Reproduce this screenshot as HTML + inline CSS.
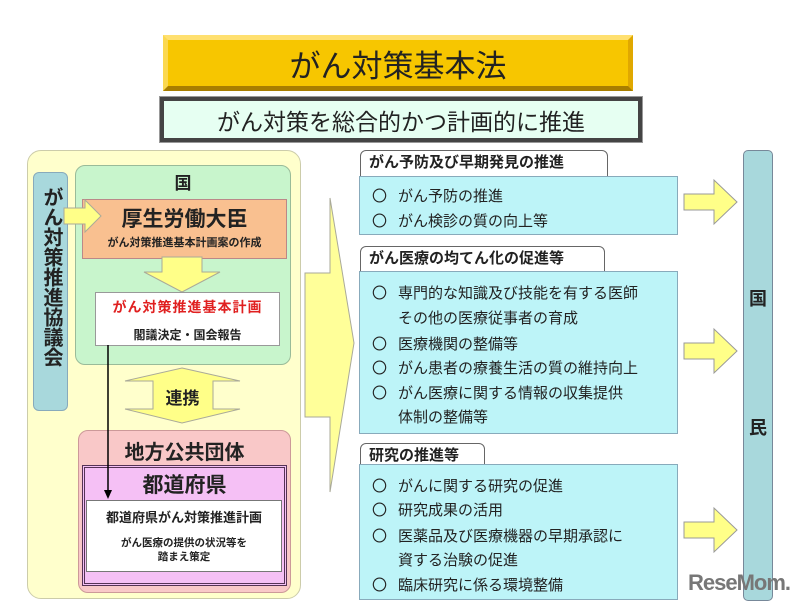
<!DOCTYPE html>
<html><head><meta charset="utf-8"><style>
*{margin:0;padding:0;box-sizing:border-box}
body{width:800px;height:609px;background:#fff;position:relative;overflow:hidden;font-family:"Liberation Sans","Noto Sans CJK JP",sans-serif;color:#222}
.a{position:absolute}
.c{display:flex;align-items:center;justify-content:center;text-align:center}
.b{font-weight:bold}
.tab{position:absolute;background:#fff;border:1px solid #666;border-radius:6px 6px 0 0;font-weight:bold;font-size:15px;padding-left:8px;line-height:24px}
.box{position:absolute;background:#BDF4F8;border:1px solid #8ab;}
.l{position:absolute;left:12px;font-size:15px;white-space:nowrap}
.o{font-family:"Noto Sans CJK JP",sans-serif;display:inline-block;width:26px;font-size:15px}
</style></head><body>
<div class="a c" style="left:163px;top:35px;width:470px;height:56px;background:#F7C600;border:5px solid #E0A800;border-top-color:#FFE070;border-left-color:#FBD850;border-bottom-color:#A87E00;font-size:31px">がん対策基本法</div>
<div class="a c" style="left:160px;top:97px;width:482px;height:45px;background:#E6FFF2;border:4px solid #444;outline:1px solid #999;font-size:23px">がん対策を総合的かつ計画的に推進</div>

<div class="a" style="left:27px;top:150px;width:274px;height:449px;background:#FFFFCC;border:1px solid #cca;border-radius:14px"></div>
<div class="a" style="left:33px;top:172px;width:35px;height:239px;background:#A8D8DC;border:1px solid #8ab;border-radius:6px;font-weight:bold;font-size:20px;line-height:23px;text-align:center;padding-top:14px;writing-mode:vertical-rl;display:flex;align-items:center">がん対策推進協議会</div>
<div class="a" style="left:75px;top:165px;width:216px;height:200px;background:#C8F5CC;border:1px solid #9b9;border-radius:10px"></div>
<div class="a c b" style="left:75px;top:170px;width:216px;height:22px;font-size:17px">国</div>
<div class="a" style="left:82px;top:199px;width:205px;height:60px;background:#F9C090;border:1px solid #b88"></div>
<div class="a c b" style="left:82px;top:204px;width:205px;height:28px;font-size:21px">厚生労働大臣</div>
<div class="a c b" style="left:82px;top:234px;width:205px;height:16px;font-size:11px">がん対策推進基本計画案の作成</div>
<svg class="a" style="left:0;top:0" width="800" height="609">
<polygon points="64,208 85,208 85,200 101,216 85,232 85,224 64,224" fill="#FFFF88" stroke="#aa9" />
<polygon points="162,257 202,257 202,272 220,272 182,292 144,272 162,272" fill="#FFFF88" stroke="#aa9"/>
<polygon points="182,368 240,381 213,381 213,409 240,409 182,423 125,409 153,409 153,381 125,381" fill="#FFFF88" stroke="#aa9"/>
<polygon points="305,273 330,273 330,198 354,343 330,492 330,417 305,417" fill="#FFFF99" stroke="#aa9"/>
<polygon points="684,194 714,194 714,180 737,202 714,224 714,210 684,210" fill="#FFFF88" stroke="#999"/>
<polygon points="684,343 714,343 714,329 737,351 714,373 714,359 684,359" fill="#FFFF88" stroke="#999"/>
<polygon points="684,522 714,522 714,508 737,530 714,552 714,538 684,538" fill="#FFFF88" stroke="#999"/>
</svg>
<div class="a" style="left:95px;top:292px;width:185px;height:54px;background:#fff;border:1px solid #999"></div>
<div class="a c b" style="left:95px;top:296px;width:185px;height:22px;font-size:14px;color:#E02020;letter-spacing:1px">がん対策推進基本計画</div>
<div class="a c b" style="left:95px;top:325px;width:185px;height:18px;font-size:12px">閣議決定・国会報告</div>
<div class="a c b" style="left:125px;top:385px;width:115px;height:22px;font-size:17px">連携</div>

<div class="a" style="left:78px;top:430px;width:213px;height:163px;background:#F9C8C8;border:1px solid #c99;border-radius:10px"></div>
<div class="a c b" style="left:78px;top:437px;width:213px;height:26px;font-size:20px">地方公共団体</div>
<div class="a" style="left:82px;top:465px;width:205px;height:121px;background:#F5C0F5;border:3px double #535"></div>
<div class="a c b" style="left:82px;top:471px;width:205px;height:26px;font-size:21px">都道府県</div>
<div class="a" style="left:86px;top:500px;width:196px;height:72px;background:#fff;border:1px solid #777"></div>
<div class="a c b" style="left:86px;top:506px;width:196px;height:20px;font-size:13px">都道府県がん対策推進計画</div>
<div class="a c b" style="left:86px;top:535px;width:196px;height:30px;font-size:10.5px;line-height:14px">がん医療の提供の状況等を<br>踏まえ策定</div>
<svg class="a" style="left:0;top:0" width="800" height="609">
<line x1="108" y1="345" x2="108" y2="492" stroke="#000" stroke-width="1.5"/>
<polygon points="104,490 112,490 108,499" fill="#000"/>
</svg>

<div class="tab" style="left:360px;top:150px;width:248px;height:28px">がん予防及び早期発見の推進</div>
<div class="box" style="left:359px;top:176px;width:319px;height:59px">
<div class="l" style="top:8px"><span class="o">〇</span>がん予防の推進</div>
<div class="l" style="top:33px"><span class="o">〇</span>がん検診の質の向上等</div></div>
<div class="tab" style="left:360px;top:246px;width:245px;height:27px">がん医療の均てん化の促進等</div>
<div class="box" style="left:359px;top:271px;width:319px;height:163px">
<div class="l" style="top:10px"><span class="o">〇</span>専門的な知識及び技能を有する医師</div>
<div class="l" style="top:35px"><span class="o"></span>その他の医療従事者の育成</div>
<div class="l" style="top:61px"><span class="o">〇</span>医療機関の整備等</div>
<div class="l" style="top:85px"><span class="o">〇</span>がん患者の療養生活の質の維持向上</div>
<div class="l" style="top:110px"><span class="o">〇</span>がん医療に関する情報の収集提供</div>
<div class="l" style="top:134px"><span class="o"></span>体制の整備等</div></div>
<div class="tab" style="left:360px;top:443px;width:125px;height:27px">研究の推進等</div>
<div class="box" style="left:359px;top:464px;width:319px;height:136px">
<div class="l" style="top:10px"><span class="o">〇</span>がんに関する研究の促進</div>
<div class="l" style="top:34px"><span class="o">〇</span>研究成果の活用</div>
<div class="l" style="top:60px"><span class="o">〇</span>医薬品及び医療機器の早期承認に</div>
<div class="l" style="top:84px"><span class="o"></span>資する治験の促進</div>
<div class="l" style="top:109px"><span class="o">〇</span>臨床研究に係る環境整備</div></div>

<div class="a" style="left:743px;top:150px;width:30px;height:451px;background:#A8D8DC;border:1px solid #789;border-radius:5px"></div>
<div class="a c b" style="left:743px;top:286px;width:30px;height:24px;font-size:18px">国</div>
<div class="a c b" style="left:743px;top:415px;width:30px;height:24px;font-size:18px">民</div>
<div class="a b" style="left:688px;top:570px;font-size:22px;color:#777;letter-spacing:-1px">ReseMom.</div>
</body></html>
